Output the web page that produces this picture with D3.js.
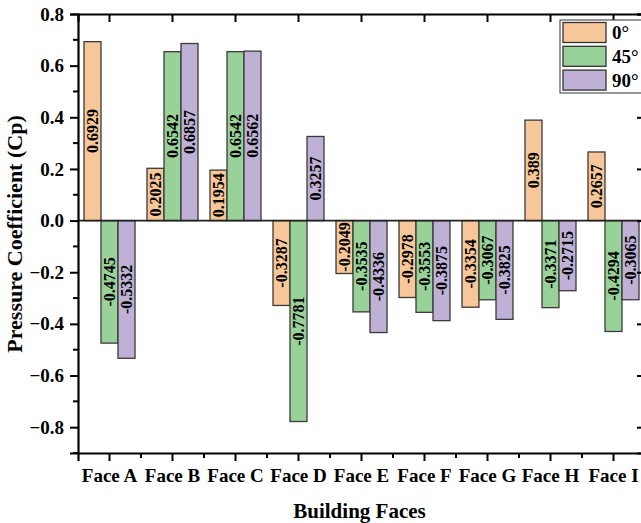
<!DOCTYPE html>
<html>
<head>
<meta charset="utf-8">
<script src="https://cdn.jsdelivr.net/npm/d3@7"></script>
<style>
  html, body { margin: 0; padding: 0; background: #fff; }
  svg { display: block; font-family: "Liberation Serif", "Times New Roman", serif; font-weight: bold; }
</style>
</head>
<body>
<svg id="chart" width="641" height="523"></svg>
<script>
// chart data
const faces = ['Face A', 'Face B', 'Face C', 'Face D', 'Face E', 'Face F', 'Face G', 'Face H', 'Face I'];
const series = ['0°', '45°', '90°'];
const deg0 = [0.6929, 0.2025, 0.1954, -0.3287, -0.2049, -0.2978, -0.3354, 0.389, 0.2657];
const deg45 = [-0.4745, 0.6542, 0.6542, -0.7781, -0.3535, -0.3553, -0.3067, -0.3371, -0.4294];
const deg90 = [-0.5332, 0.6857, 0.6562, 0.3257, -0.4336, -0.3875, -0.3825, -0.2715, -0.3065];
const yTicks = [-0.8, -0.6, -0.4, -0.2, 0.0, 0.2, 0.4, 0.6, 0.8];
const colors = ['#F7C799', '#99D299', '#BFB0D5'];

const serif = '"Liberation Serif", "Times New Roman", serif';
const values = [deg0, deg45, deg90];
const rows = faces.map((f, i) => ({
  face: f,
  bars: series.map((s, k) => ({ key: s, value: values[k][i], color: colors[k] })),
}));

const svg = d3.select('#chart');
const plotLeft = 78, plotRight = 645, plotTop = 14, plotBottom = 453;

const x = d3.scaleBand().domain(faces).range([plotLeft, plotRight]).padding(0);
const xIn = d3.scaleBand().domain(series).range([0, x.bandwidth()])
  .paddingInner(0).paddingOuter(0.353);
const y = d3.scaleLinear().domain([-0.9, 0.8]).range([plotBottom, plotTop]);

// bars
const groups = svg.append('g').selectAll('g')
  .data(rows).enter().append('g')
  .attr('transform', (d) => `translate(${x(d.face)},0)`);

groups.selectAll('rect')
  .data((d) => d.bars).enter().append('rect')
  .attr('x', (b) => xIn(b.key))
  .attr('width', xIn.bandwidth())
  .attr('y', (b) => y(Math.max(0, b.value)))
  .attr('height', (b) => Math.abs(y(b.value) - y(0)))
  .attr('fill', (b) => b.color)
  .attr('stroke', '#3a3a3a')
  .attr('stroke-width', 1.3);

// value labels, rotated and centred in each bar
groups.selectAll('text')
  .data((d) => d.bars).enter().append('text')
  .attr('transform', (b) => {
    const cx = xIn(b.key) + xIn.bandwidth() / 2;
    const cy = (y(b.value) + y(0)) / 2;
    return `translate(${cx},${cy}) rotate(-90)`;
  })
  .attr('text-anchor', 'middle')
  .attr('dy', '0.35em')
  .attr('font-size', 16)
  .attr('fill', '#000')
  .text((b) => String(b.value));

// zero line
svg.append('line')
  .attr('x1', plotLeft).attr('x2', plotRight)
  .attr('y1', y(0)).attr('y2', y(0))
  .attr('stroke', '#222').attr('stroke-width', 1.6);

// axes
const yMinor = d3.range(-0.9, 0.81, 0.1).map((v) => +v.toFixed(1));
const bottomAxis = svg.append('g').attr('transform', `translate(0,${plotBottom})`)
  .call(d3.axisBottom(x).tickSize(8).tickPadding(8))
  .attr('font-family', serif).attr('font-size', 19);
bottomAxis.selectAll('text').attr('fill', '#000');

// minor ticks between faces on the bottom axis
svg.append('g').selectAll('line')
  .data(faces.slice(1)).enter().append('line')
  .attr('x1', (f) => x(f)).attr('x2', (f) => x(f))
  .attr('y1', plotBottom).attr('y2', plotBottom + 5)
  .attr('stroke', '#000').attr('stroke-width', 2);

const leftAxis = svg.append('g').attr('transform', `translate(${plotLeft},0)`)
  .call(d3.axisLeft(y).tickValues(yTicks).tickFormat(d3.format('.1f')).tickSize(8).tickPadding(6))
  .attr('font-family', serif).attr('font-size', 19);
leftAxis.selectAll('text').attr('fill', '#000');

svg.append('g').selectAll('line')
  .data(yMinor.filter((v) => !yTicks.includes(v))).enter().append('line')
  .attr('x1', plotLeft - 5).attr('x2', plotLeft)
  .attr('y1', (v) => y(v)).attr('y2', (v) => y(v))
  .attr('stroke', '#000').attr('stroke-width', 2);

// top and right frame with inward ticks
svg.append('g').attr('transform', `translate(0,${plotTop})`)
  .call(d3.axisTop(x).tickSize(-8).tickFormat(''));
svg.append('g').attr('transform', `translate(${plotRight},0)`)
  .call(d3.axisRight(y).tickValues(yTicks).tickSize(-8).tickFormat(''));

svg.selectAll('.domain').attr('stroke', '#000').attr('stroke-width', 2.2);
svg.selectAll('.tick line').attr('stroke', '#000').attr('stroke-width', 2);

// axis titles
svg.append('text')
  .attr('x', (plotLeft + plotRight) / 2 - 2).attr('y', 518)
  .attr('text-anchor', 'middle').attr('font-size', 21)
  .text('Building Faces');

svg.append('text')
  .attr('transform', 'translate(22,234) rotate(-90)')
  .attr('text-anchor', 'middle').attr('font-size', 22)
  .text('Pressure Coefficient (Cp)');

// legend
const lg = svg.append('g').attr('transform', 'translate(560,20)');
lg.append('rect').attr('width', 84).attr('height', 73)
  .attr('fill', '#fff').attr('stroke', '#333').attr('stroke-width', 1);
const items = lg.selectAll('g.item').data(series).enter().append('g')
  .attr('transform', (d, i) => `translate(3,${2.5 + i * 23.8})`);
items.append('rect').attr('width', 43).attr('height', 20)
  .attr('fill', (d, i) => colors[i]).attr('stroke', '#333').attr('stroke-width', 1.3);
items.append('text').attr('x', 49).attr('y', 10).attr('dy', '0.36em')
  .attr('font-size', 19).text((d) => d);
</script>
</body>
</html>
